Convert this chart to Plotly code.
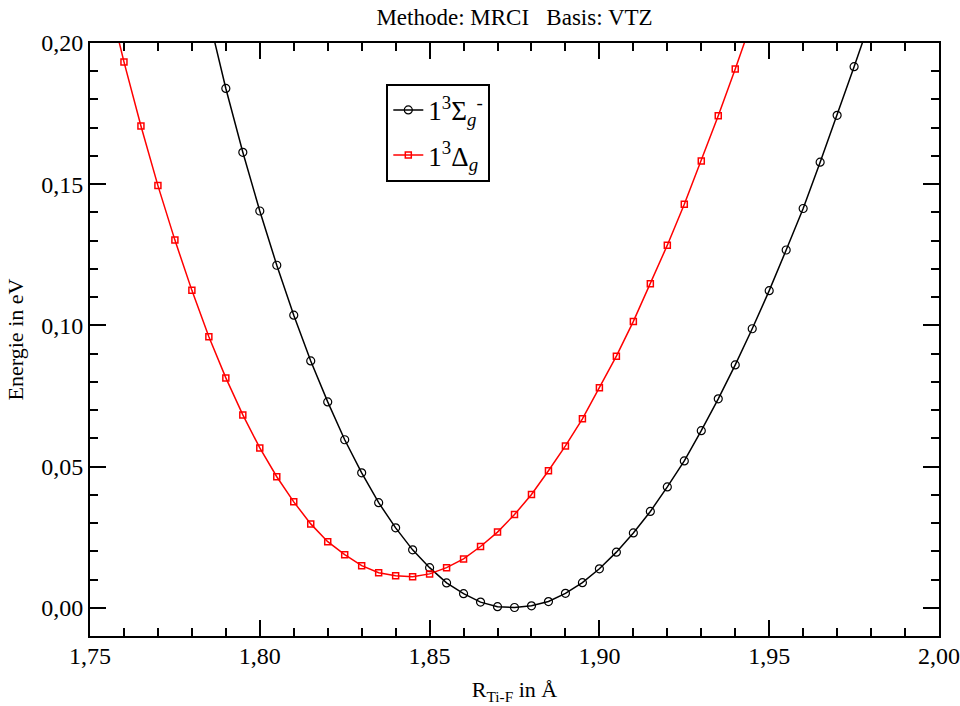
import plotly.graph_objects as go

# Bond length R(Ti-F) in Angstrom and relative energies in eV
r_sigma = [1.785, 1.790, 1.795, 1.800, 1.805, 1.810, 1.815, 1.820, 1.825, 1.830,
           1.835, 1.840, 1.845, 1.850, 1.855, 1.860, 1.865, 1.870, 1.875, 1.880,
           1.885, 1.890, 1.895, 1.900, 1.905, 1.910, 1.915, 1.920, 1.925, 1.930,
           1.935, 1.940, 1.945, 1.950, 1.955, 1.960, 1.965, 1.970, 1.975, 1.980]
e_sigma = [0.2090, 0.1839, 0.1613, 0.1405, 0.1213, 0.1036, 0.0874, 0.0729, 0.0595, 0.0478,
           0.0372, 0.0283, 0.0205, 0.0142, 0.0088, 0.0050, 0.0020, 0.0004, 0.0001, 0.0007,
           0.0022, 0.0051, 0.0089, 0.0138, 0.0197, 0.0265, 0.0341, 0.0428, 0.0520, 0.0627,
           0.0740, 0.0860, 0.0988, 0.1123, 0.1267, 0.1414, 0.1578, 0.1744, 0.1916, 0.2090]

r_delta = [1.755, 1.760, 1.765, 1.770, 1.775, 1.780, 1.785, 1.790, 1.795, 1.800,
           1.805, 1.810, 1.815, 1.820, 1.825, 1.830, 1.835, 1.840, 1.845, 1.850,
           1.855, 1.860, 1.865, 1.870, 1.875, 1.880, 1.885, 1.890, 1.895, 1.900,
           1.905, 1.910, 1.915, 1.920, 1.925, 1.930, 1.935, 1.940, 1.945]
e_delta = [0.2180, 0.1933, 0.1706, 0.1495, 0.1302, 0.1124, 0.0960, 0.0814, 0.0683, 0.0566,
           0.0464, 0.0375, 0.0297, 0.0234, 0.0188, 0.0149, 0.0124, 0.0113, 0.0110, 0.0120,
           0.0142, 0.0173, 0.0217, 0.0268, 0.0330, 0.0401, 0.0485, 0.0573, 0.0669, 0.0779,
           0.0891, 0.1014, 0.1147, 0.1284, 0.1429, 0.1582, 0.1742, 0.1908, 0.2080]

FONT = "Liberation Serif"

fig = go.Figure()
fig.add_trace(go.Scatter(
    x=r_sigma, y=e_sigma, mode="lines+markers",
    name="1<sup>3</sup>Σ<sub><i>g</i></sub><sup>-</sup>",
    legendgroup="sigma",
    line=dict(color="black", width=1.5),
    marker=dict(symbol="circle-open", size=8, color="black", line=dict(width=1.2)),
))
fig.add_trace(go.Scatter(
    x=r_delta, y=e_delta, mode="lines+markers",
    name="1<sup>3</sup>Δ<sub><i>g</i></sub>",
    legendgroup="delta",
    line=dict(color="red", width=1.5),
    marker=dict(symbol="square-open", size=6, color="red", line=dict(width=1.5)),
))

axis_common = dict(
    showline=True, linecolor="black", linewidth=2, mirror="allticks",
    ticks="inside", ticklen=16, tickwidth=2, tickcolor="black",
    showgrid=False, zeroline=False, automargin=False,
    tickfont=dict(family=FONT, size=24, color="black"),
    tickformat=".2f",
)

fig.update_xaxes(
    range=[1.75, 2.0], dtick=0.05, tick0=1.75, ticklabelstandoff=-3,
    minor=dict(dtick=0.01, ticklen=8, tickwidth=1.5, tickcolor="black", ticks="inside", showgrid=False),
    title=dict(text="R<sub>Ti-F</sub> in Å", font=dict(family=FONT, size=22, color="black"), standoff=14),
    **axis_common,
)
fig.update_yaxes(
    range=[-0.01, 0.2], dtick=0.05, tick0=0,
    minor=dict(dtick=0.01, ticklen=8, tickwidth=1.5, tickcolor="black", ticks="inside", showgrid=False),
    title=dict(text="Energie in eV", font=dict(family=FONT, size=22, color="black"), standoff=12),
    **axis_common,
)

fig.update_layout(
    width=960, height=706,
    margin=dict(l=90, r=21, t=43, b=70),
    paper_bgcolor="white", plot_bgcolor="white",
    separators=",.",
    font=dict(family=FONT, color="black"),
    title=dict(text="Methode: MRCI&nbsp;&nbsp;&nbsp;Basis: VTZ",
               font=dict(family=FONT, size=23, color="black"),
               x=0.5, xref="paper", y=1 - 17 / 706, yref="container", yanchor="middle"),
    showlegend=True,
    legend=dict(
        x=0.349, y=0.931, xanchor="left", yanchor="top",
        bgcolor="white", bordercolor="black", borderwidth=2,
        font=dict(family=FONT, size=27, color="black"),
        traceorder="grouped", tracegroupgap=7,
        entrywidth=72,
    ),
)

fig.write_html("out.html")
